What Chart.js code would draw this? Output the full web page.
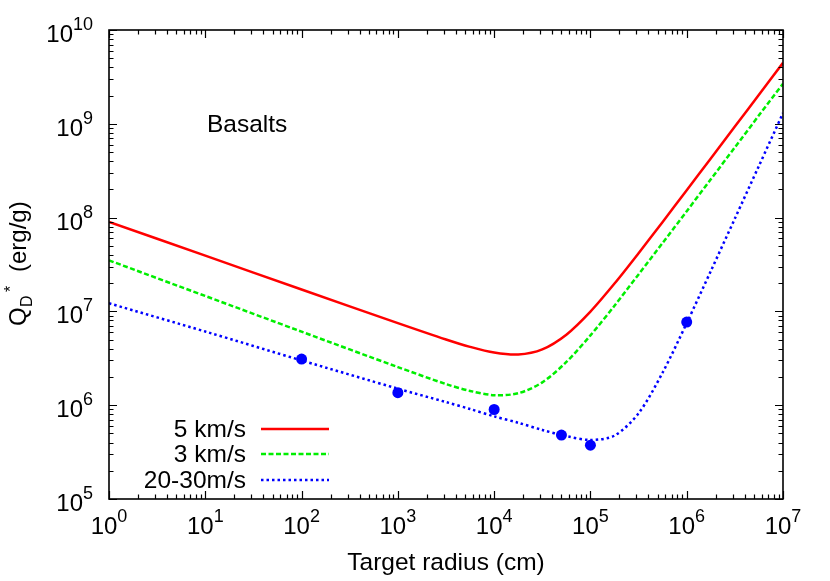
<!DOCTYPE html>
<html>
<head>
<meta charset="utf-8">
<script src="https://cdn.jsdelivr.net/npm/chart.js@4.4.1/dist/chart.umd.min.js"></script>
<style>
  body { margin: 0; background: #fff; }
</style>
</head>
<body>
<canvas id="chart" width="830" height="581"></canvas>
<script>
// target radius (cm), shared by the three curves
const radius = [1, 10, 100, 1e3, 3162, 5623, 1e4, 17783, 31623, 56234, 1e5,
                177828, 316228, 562341, 1e6, 1778279, 3162278, 5623413, 1e7];
// Q_D* (erg/g)
const q5kms = [9.0e7, 3.93e7, 1.71e7, 7.5e6, 5.02e6, 4.19e6, 3.64e6, 3.47e6, 3.94e6, 5.65e6, 9.95e6,
               1.98e7, 4.17e7, 9.0e7, 1.96e8, 4.27e8, 9.34e8, 2.04e9, 4.47e9];
const q3kms = [3.5e7, 1.46e7, 6.08e6, 2.55e6, 1.68e6, 1.42e6, 1.28e6, 1.34e6, 1.75e6, 2.89e6, 5.55e6,
               1.15e7, 2.48e7, 5.37e7, 1.17e8, 2.56e8, 5.6e8, 1.23e9, 2.68e9];
const qSlow = [1.22e7, 6.1e6, 3.0e6, 1.5e6, 1.08e6, 9.1e5, 7.6e5, 6.5e5, 5.45e5, 4.68e5, 4.26e5,
               4.74e5, 8.2e5, 2.23e6, 7.5e6, 2.69e7, 9.76e7, 3.56e8, 1.3e9];
// measured points for the slow impacts
const labRadius = [1e2, 1e3, 1e4, 5e4, 1e5, 1e6];
const labQ = [3.1e6, 1.36e6, 9.0e5, 4.8e5, 3.75e5, 7.7e6];

const seriesNames = ['5 km/s', '3 km/s', '20-30m/s'];
const seriesColors = ['#ff0000', '#00ee00', '#0000ff'];
const seriesDash = [[], [5, 2.5], [2.5, 3]];
const xTickExp = [0, 1, 2, 3, 4, 5, 6, 7];
const yTickExp = [5, 6, 7, 8, 9, 10];

const FONT = "'Liberation Sans', Arial, Helvetica, sans-serif";

function toPoints(xs, ys) {
    return xs.map((x, i) => ({ x: x, y: ys[i] }));
}

// "10" with a raised exponent
function powerLabel(ctx, exp, x, y, align) {
    ctx.font = '24px ' + FONT;
    const w1 = ctx.measureText('10').width;
    ctx.font = '18px ' + FONT;
    const w2 = ctx.measureText(String(exp)).width;
    const left = align === 'center' ? x - (w1 + w2) / 2 : x - (w1 + w2);
    ctx.textAlign = 'left';
    ctx.font = '24px ' + FONT;
    ctx.fillText('10', left, y);
    ctx.font = '18px ' + FONT;
    ctx.fillText(String(exp), left + w1, y - 12);
}

const frameAndText = {
    id: 'frameAndText',
    afterDraw(chart) {
        const ctx = chart.ctx;
        const a = chart.chartArea;
        const xs = chart.scales.x;
        const ys = chart.scales.y;
        ctx.save();
        ctx.fillStyle = '#000';
        ctx.strokeStyle = '#000';
        ctx.textBaseline = 'alphabetic';

        // ticks, pointing inwards on all four sides
        ctx.lineWidth = 1.2;
        ctx.beginPath();
        for (let e = xTickExp[0]; e <= xTickExp[xTickExp.length - 1]; e++) {
            for (let m = 1; m <= 9; m++) {
                const v = m * Math.pow(10, e);
                if (v > 1e7) break;
                const px = Math.round(xs.getPixelForValue(v)) + 0.5;
                const len = m === 1 ? 8 : 4.5;
                ctx.moveTo(px, a.bottom); ctx.lineTo(px, a.bottom - len);
                ctx.moveTo(px, a.top); ctx.lineTo(px, a.top + len);
            }
        }
        for (let e = yTickExp[0]; e <= yTickExp[yTickExp.length - 1]; e++) {
            for (let m = 1; m <= 9; m++) {
                const v = m * Math.pow(10, e);
                if (v > 1e10) break;
                const py = Math.round(ys.getPixelForValue(v)) + 0.5;
                const len = m === 1 ? 8 : 4.5;
                ctx.moveTo(a.left, py); ctx.lineTo(a.left + len, py);
                ctx.moveTo(a.right, py); ctx.lineTo(a.right - len, py);
            }
        }
        ctx.stroke();

        ctx.lineWidth = 1.6;
        ctx.strokeRect(a.left, a.top, a.right - a.left, a.bottom - a.top);

        // tick labels
        xTickExp.forEach(e => powerLabel(ctx, e, xs.getPixelForValue(Math.pow(10, e)), 534, 'center'));
        yTickExp.forEach(e => powerLabel(ctx, e, 93, ys.getPixelForValue(Math.pow(10, e)) + 12, 'right'));

        // axis titles
        ctx.font = '24.5px ' + FONT;
        ctx.textAlign = 'center';
        ctx.fillText('Target radius (cm)', (a.left + a.right) / 2, 570);

        ctx.save();
        ctx.translate(26, 326);
        ctx.rotate(-Math.PI / 2);
        ctx.textAlign = 'left';
        ctx.font = '24px ' + FONT;
        ctx.fillText('Q', 0, 0);
        ctx.font = '16px ' + FONT;
        ctx.fillText('D', 19, 6);
        ctx.fillText('*', 34, -10);
        ctx.font = '24px ' + FONT;
        ctx.fillText('(erg/g)', 54, 0);
        ctx.restore();

        ctx.textAlign = 'left';
        ctx.font = '24.5px ' + FONT;
        ctx.fillText('Basalts', 207, 132);

        // key
        const rows = [429, 454, 480];
        seriesNames.forEach((name, i) => {
            ctx.font = '24.5px ' + FONT;
            ctx.textAlign = 'right';
            ctx.fillStyle = '#000';
            ctx.fillText(name, 246, rows[i] + 8);
            ctx.strokeStyle = seriesColors[i];
            ctx.lineWidth = 2.5;
            ctx.setLineDash(seriesDash[i]);
            ctx.beginPath();
            ctx.moveTo(261, rows[i]);
            ctx.lineTo(329, rows[i]);
            ctx.stroke();
        });
        ctx.setLineDash([]);
        ctx.restore();
    }
};

const lineStyle = i => ({
    label: seriesNames[i],
    borderColor: seriesColors[i],
    borderWidth: 2.5,
    borderDash: seriesDash[i],
    pointRadius: 0,
    fill: false,
    tension: 0.3
});

new Chart(document.getElementById('chart'), {
    type: 'line',
    data: {
        datasets: [
            Object.assign(lineStyle(0), { data: toPoints(radius, q5kms) }),
            Object.assign(lineStyle(1), { data: toPoints(radius, q3kms) }),
            Object.assign(lineStyle(2), { data: toPoints(radius, qSlow) }),
            {
                label: 'data',
                data: toPoints(labRadius, labQ),
                showLine: false,
                pointRadius: 5.5,
                pointBackgroundColor: '#0000ff',
                pointBorderColor: '#0000ff',
                pointBorderWidth: 0
            }
        ]
    },
    options: {
        responsive: false,
        animation: false,
        layout: { padding: { left: 109, top: 30, right: 47, bottom: 82 } },
        plugins: { legend: { display: false }, tooltip: { enabled: false } },
        scales: {
            x: { type: 'logarithmic', min: 1, max: 1e7, display: false },
            y: { type: 'logarithmic', min: 1e5, max: 1e10, display: false }
        }
    },
    plugins: [frameAndText]
});
</script>
</body>
</html>
